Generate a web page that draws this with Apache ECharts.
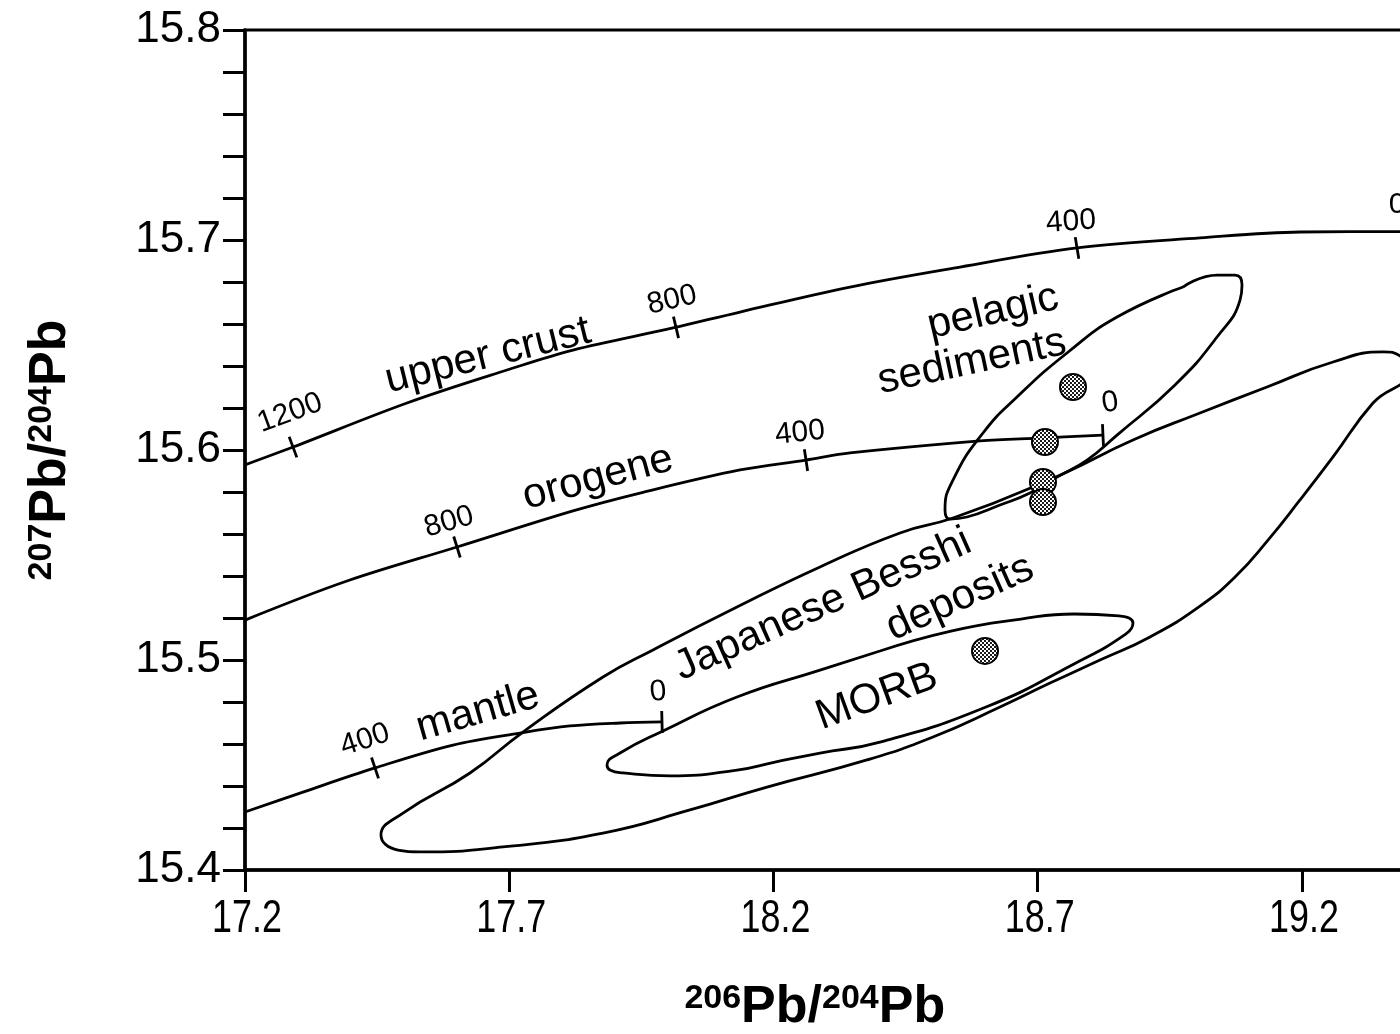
<!DOCTYPE html>
<html>
<head>
<meta charset="utf-8">
<script src="https://cdn.jsdelivr.net/npm/echarts@6/dist/echarts.min.js"></script>
<style>
  html, body { margin: 0; padding: 0; background: #fff; }
  #chart { width: 1400px; height: 1034px; }
</style>
</head>
<body>
<div id="chart"></div>
<script>
// Pb evolution curves: [206Pb/204Pb, 207Pb/204Pb]
const upperCrust = [
  [17.2, 15.5929], [17.2908, 15.6014], [17.5065, 15.6224], [17.6957, 15.6381],
  [17.8206, 15.6476], [18.0098, 15.6581], [18.1366, 15.6657], [18.3447, 15.6776],
  [18.5529, 15.6871], [18.7743, 15.6962], [19.0070, 15.7010], [19.1962, 15.7038],
  [19.3855, 15.7040], [19.5, 15.7040]
];
const orogene = [
  [17.2, 15.5190], [17.3930, 15.5376], [17.6011, 15.5538], [17.8206, 15.5710],
  [17.9474, 15.5795], [18.1366, 15.5905], [18.2615, 15.5952], [18.3447, 15.5986],
  [18.5907, 15.6043], [18.7043, 15.6057], [18.8234, 15.6071]
];
const mantle = [
  [17.2, 15.4276], [17.3097, 15.4371], [17.4460, 15.4486], [17.5936, 15.4595],
  [17.7203, 15.4652], [17.8149, 15.4686], [17.9096, 15.4700], [17.9890, 15.4705]
];

// Age marks (Ma) on each curve: [x, y]
const upperCrustMarks = [[17.2908, 15.6014], [18.0155, 15.6584], [18.7743, 15.6962], [19.404, 15.7040]];
const orogeneMarks = [[17.6011, 15.5538], [18.2615, 15.5952], [18.8234, 15.6071]];
const mantleMarks = [[17.4460, 15.4486], [17.9890, 15.4705]];

// Age mark labels: [x, y, text, angle]
const ageLabels = [
  [17.2851, 15.6176, '1200', 20],
  [18.0080, 15.6714, '800', 13],
  [18.7629, 15.7086, '400', 4],
  [19.3797, 15.7167, '0', 0],
  [17.5860, 15.5657, '800', 16],
  [18.2501, 15.6081, '400', 6],
  [18.8367, 15.6224, '0', 8],
  [17.4271, 15.4619, '400', 18],
  [17.9815, 15.4848, '0', 5]
];

// Field outlines (closed)
const pelagicField = [
  [18.5396, 15.5857], [18.5964, 15.6081], [18.6607, 15.6252],
  [18.7553, 15.6462], [18.8500, 15.6633], [18.9748, 15.6776], [19.0392, 15.6833],
  [19.0732, 15.6833], [19.0865, 15.6786], [19.0827, 15.6714], [19.0392, 15.6538],
  [18.9597, 15.6310], [18.8500, 15.6071], [18.7932, 15.5952], [18.7364, 15.5871],
  [18.6853, 15.5795], [18.6286, 15.5738], [18.5661, 15.5681], [18.5340, 15.5671],
  [18.5245, 15.5714], [18.5396, 15.5857]
];
const besshiField = [
  [17.4990, 15.4271], [17.6257, 15.4462], [17.7260, 15.4657],
  [17.8774, 15.4919], [17.9720, 15.5048], [18.1309, 15.5252], [18.2880, 15.5443],
  [18.4394, 15.5605], [18.5396, 15.5676], [18.6910, 15.5824], [18.7553, 15.5895],
  [18.8802, 15.6048], [19.0070, 15.6176], [19.1338, 15.6300], [19.2587, 15.6419],
  [19.3533, 15.6467], [19.3854, 15.6448], [19.3987, 15.6371], [19.3343, 15.6224],
  [19.2587, 15.5967], [19.1962, 15.5762], [19.1357, 15.5571], [19.0751, 15.5400],
  [19.0070, 15.5257], [18.9124, 15.5110], [18.8178, 15.5000], [18.7232, 15.4890],
  [18.6286, 15.4776], [18.5018, 15.4633], [18.3769, 15.4524], [18.1877, 15.4395],
  [18.0420, 15.4286], [17.8774, 15.4176], [17.6882, 15.4110], [17.5311, 15.4086],
  [17.4895, 15.4095], [17.4573, 15.4167], [17.4990, 15.4271]
];
const morbField = [
  [17.8850, 15.4500], [17.9096, 15.4557], [17.9909, 15.4662], [18.1309, 15.4824],
  [18.2880, 15.4952], [18.4015, 15.5043], [18.5358, 15.5138], [18.6683, 15.5195],
  [18.7686, 15.5219], [18.8537, 15.5210], [18.8802, 15.5176], [18.8670, 15.5124],
  [18.7686, 15.4981], [18.6021, 15.4776], [18.4034, 15.4610], [18.2880, 15.4557],
  [18.2028, 15.4514], [18.1309, 15.4476], [18.0042, 15.4448], [17.9152, 15.4462],
  [17.8906, 15.4476], [17.8850, 15.4500]
];

// Measured samples
const besshiSamples = [
  [18.7667, 15.6300], [18.7137, 15.6038], [18.7099, 15.5848], [18.7099, 15.5752], [18.6002, 15.5043]
];

// Field and curve names: [x, y, text, angle]
const fieldLabels = [
  [17.6598, 15.6448, 'upper crust', 14],
  [17.8679, 15.5867, 'orogene', 15],
  [17.6409, 15.4752, 'mantle', 16],
  [18.6153, 15.6657, 'pelagic', 13],
  [18.5756, 15.6419, 'sediments', 12],
  [18.2937, 15.5262, 'Japanese Besshi', 24],
  [18.5529, 15.5295, 'deposits', 24],
  [18.3958, 15.4824, 'MORB', 20]
];

// Axis tick labels
const xTickLabels = [17.2, 17.7, 18.2, 18.7, 19.2];

const FONT = '"Liberation Sans", Arial, Helvetica, sans-serif';
const X_MIN = 17.2, X_MAX = 19.5, Y_MIN = 15.4, Y_MAX = 15.8;

// Start a closed outline a quarter of the way round, so the join sits on a gentle stretch
function closedPath(points) {
  const ring = points.slice(0, -1);
  const k = Math.floor(ring.length / 4);
  const out = ring.slice(k).concat(ring.slice(0, k));
  out.push(out[0]);
  return out;
}

// Mark segments: attach the local curve direction to each mark
function markData(curve, marks) {
  return marks.map(([x, y]) => {
    let i = 0;
    while (i < curve.length - 2 && curve[i + 1][0] < x) i++;
    const a = curve[i], b = curve[i + 1];
    return [x, y, a[0], a[1], b[0], b[1]];
  });
}

function stipple() {
  const c = document.createElement('canvas');
  c.width = 4; c.height = 4;
  const g = c.getContext('2d');
  g.fillStyle = '#fff'; g.fillRect(0, 0, 4, 4);
  g.fillStyle = '#1a1a1a';
  g.fillRect(0, 0, 2, 2); g.fillRect(2, 2, 2, 2);
  return c;
}
const stipplePattern = { image: stipple(), repeat: 'repeat' };

function curveSeries(name, data, smooth) {
  return {
    name, type: 'line', data, smooth, symbol: 'none', silent: true,
    lineStyle: { color: '#000', width: 2.8 }, z: 3
  };
}

function textSeries(name, items, size) {
  return {
    name, type: 'custom', silent: true, z: 5,
    data: items.map(d => [d[0], d[1]]),
    encode: { x: 0, y: 1 },
    renderItem(params, api) {
      const it = items[params.dataIndex];
      const p = api.coord([it[0], it[1]]);
      return {
        type: 'text', x: p[0], y: p[1], rotation: it[3] * Math.PI / 180,
        style: {
          text: it[2], fontSize: size, fontFamily: FONT, fill: '#000',
          align: 'center', verticalAlign: 'middle'
        }
      };
    }
  };
}

const marks = []
  .concat(markData(upperCrust, upperCrustMarks))
  .concat(markData(orogene, orogeneMarks))
  .concat(markData(mantle, mantleMarks));

const titleRich = {
  sup: { fontSize: 34, fontWeight: 'bold', color: '#000', fontFamily: FONT, verticalAlign: 'top' },
  main: { fontSize: 52, fontWeight: 'bold', color: '#000', fontFamily: FONT }
};

const chart = echarts.init(document.getElementById('chart'), null, { renderer: 'canvas' });

chart.setOption({
  animation: false,
  backgroundColor: '#fff',
  textStyle: { fontFamily: FONT },
  grid: {
    left: 245, top: 30, width: 1215.55, height: 840,
    containLabel: false, outerBoundsMode: 'none',
    show: true, borderColor: '#000', borderWidth: 3, backgroundColor: 'transparent'
  },
  xAxis: {
    type: 'value', min: X_MIN, max: X_MAX, interval: 0.5,
    axisLine: { lineStyle: { color: '#000', width: 3.5 } },
    axisTick: { length: 22, lineStyle: { color: '#000', width: 3 } },
    axisLabel: { show: false },
    splitLine: { show: false },
    name: '{sup|206}{main|Pb/}{sup|204}{main|Pb}',
    nameLocation: 'middle', nameGap: 112,
    nameTextStyle: { rich: titleRich, padding: [0, 76, 0, 0] }
  },
  yAxis: {
    type: 'value', min: Y_MIN, max: Y_MAX, interval: 0.1,
    axisLine: { lineStyle: { color: '#000', width: 3.5 } },
    axisTick: { length: 22, lineStyle: { color: '#000', width: 3 } },
    minorTick: { show: true, splitNumber: 5, length: 22, lineStyle: { color: '#000', width: 3 } },
    axisLabel: { fontSize: 44, color: '#000', margin: 24, formatter: v => v.toFixed(1) },
    splitLine: { show: false },
    name: '{sup|207}{main|Pb/}{sup|204}{main|Pb}',
    nameLocation: 'middle', nameGap: 168, nameRotate: 90,
    nameTextStyle: { rich: titleRich }
  },
  series: [
    curveSeries('upper crust', upperCrust, 0.35),
    curveSeries('orogene', orogene, 0.35),
    curveSeries('mantle', mantle, 0.35),
    curveSeries('pelagic sediments', closedPath(pelagicField), 0.5),
    curveSeries('Japanese Besshi deposits', closedPath(besshiField), 0.5),
    curveSeries('MORB', closedPath(morbField), 0.5),
    {
      name: 'age marks', type: 'custom', silent: true, z: 4,
      data: marks,
      encode: { x: [0, 2, 4], y: [1, 3, 5] },
      renderItem(params, api) {
        const p = api.coord([api.value(0), api.value(1)]);
        const a = api.coord([api.value(2), api.value(3)]);
        const b = api.coord([api.value(4), api.value(5)]);
        const dx = b[0] - a[0], dy = b[1] - a[1];
        const len = Math.hypot(dx, dy) || 1;
        const nx = -dy / len, ny = dx / len, h = 11;
        return {
          type: 'line',
          shape: { x1: p[0] - nx * h, y1: p[1] - ny * h, x2: p[0] + nx * h, y2: p[1] + ny * h },
          style: { stroke: '#000', lineWidth: 2.8 }
        };
      }
    },
    {
      name: 'samples', type: 'custom', silent: true, z: 6,
      data: besshiSamples,
      encode: { x: 0, y: 1 },
      renderItem(params, api) {
        const p = api.coord([api.value(0), api.value(1)]);
        return {
          type: 'circle',
          shape: { cx: p[0], cy: p[1], r: 13 },
          style: { fill: stipplePattern, stroke: '#000', lineWidth: 2 }
        };
      }
    },
    {
      name: 'x tick labels', type: 'custom', silent: true, z: 5,
      data: xTickLabels.map(v => [v, Y_MIN]),
      encode: { x: 0, y: 1 },
      renderItem(params, api) {
        const v = api.value(0);
        const p = api.coord([v, Y_MIN]);
        return {
          type: 'text', x: p[0] + 2, y: p[1] + 49, scaleX: 0.78,
          style: {
            text: v.toFixed(1), fontSize: 46, fontFamily: FONT, fill: '#000',
            align: 'center', verticalAlign: 'middle'
          }
        };
      }
    },
    textSeries('age labels', ageLabels, 30),
    textSeries('field labels', fieldLabels, 42)
  ]
});
</script>
</body>
</html>
